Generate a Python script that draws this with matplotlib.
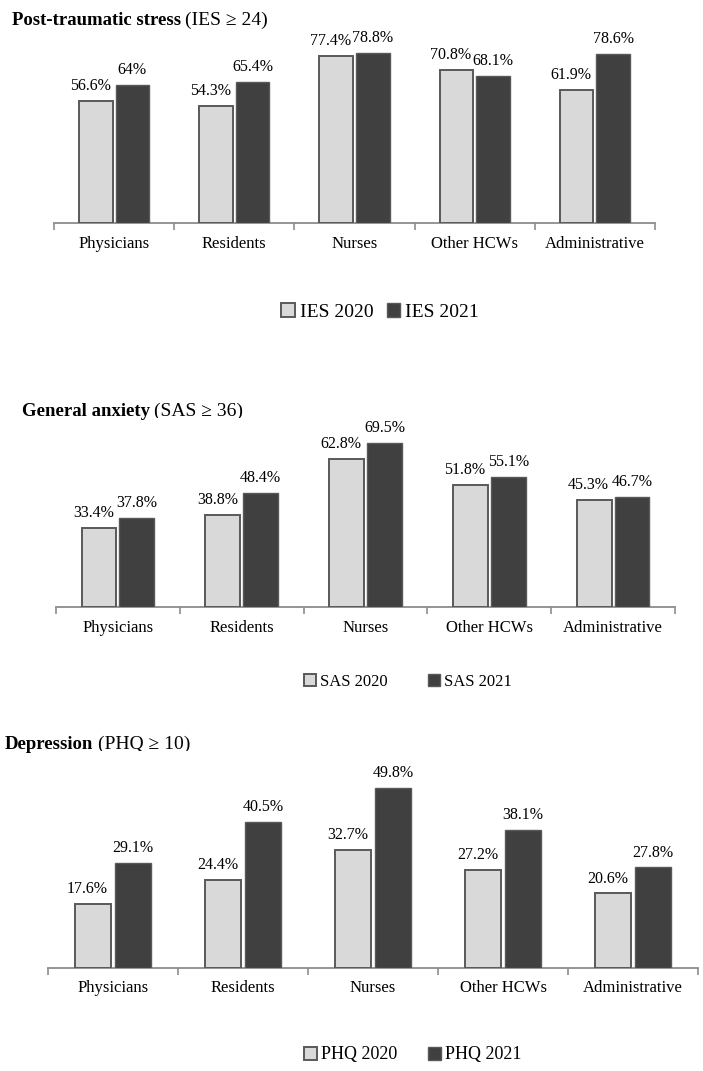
import matplotlib
matplotlib.use("Agg")
import matplotlib.pyplot as plt
import numpy as np

plt.rcParams['font.family'] = ['Liberation Serif', 'DejaVu Serif']

groups = ['Physicians', 'Residents', 'Nurses', 'Other HCWs', 'Administrative']

ies_2020 = [56.6, 54.3, 77.4, 70.8, 61.9]
ies_2021 = [64.0, 65.4, 78.8, 68.1, 78.6]
ies_labels_2020 = ['56.6%', '54.3%', '77.4%', '70.8%', '61.9%']
ies_labels_2021 = ['64%', '65.4%', '78.8%', '68.1%', '78.6%']

sas_2020 = [33.4, 38.8, 62.8, 51.8, 45.3]
sas_2021 = [37.8, 48.4, 69.5, 55.1, 46.7]

phq_2020 = [17.6, 24.4, 32.7, 27.2, 20.6]
phq_2021 = [29.1, 40.5, 49.8, 38.1, 27.8]

W, H = 703, 1071
light = '#d9d9d9'
dark = '#404040'
edge = '#595959'
axis_col = '#8c8c8c'

fig = plt.figure(figsize=(W / 100, H / 100), dpi=100)


def add_ax(x0, x1, base, top):
    # pixel box -> figure fraction
    return fig.add_axes([x0 / W, 1 - base / H, (x1 - x0) / W, (base - top) / H])


def fmt(vals):
    return ['%g%%' % v for v in vals]


def panel(ax, v1, v2, lab1, lab2, ymax):
    x = np.arange(len(groups))
    w = 0.28
    off = w / 2 + 0.0125
    b1 = ax.bar(x - off, v1, w, color=light, edgecolor=edge, linewidth=1.4, zorder=3)
    b2 = ax.bar(x + off, v2, w, color=dark, edgecolor=edge, linewidth=1.0, zorder=3)
    for r, t in zip(b1, lab1):
        ax.annotate(t, (r.get_x() + r.get_width() / 2, r.get_height()),
                    xytext=(-4, 5), textcoords='offset points',
                    ha='center', va='bottom', fontsize=11.5)
    for r, t in zip(b2, lab2):
        ax.annotate(t, (r.get_x() + r.get_width() / 2, r.get_height()),
                    xytext=(0, 5), textcoords='offset points',
                    ha='center', va='bottom', fontsize=11.5)
    ax.set_xlim(-0.5, len(groups) - 0.5)
    ax.set_ylim(0, ymax)
    for s in ['top', 'right', 'left']:
        ax.spines[s].set_visible(False)
    ax.spines['bottom'].set_color(axis_col)
    ax.spines['bottom'].set_linewidth(1.3)
    ax.set_yticks([])
    ax.set_xticks(x)
    ax.set_xticklabels(groups, fontsize=12)
    ax.tick_params(axis='x', which='major', length=0, pad=9)
    ax.set_xticks(np.arange(len(groups) + 1) - 0.5, minor=True)
    ax.tick_params(axis='x', which='minor', length=5, width=1.2, color=axis_col)
    return b1, b2


def title(x, y, bold, rest):
    t = fig.text(x / W, 1 - y / H, bold, fontsize=13.5, fontweight='bold', va='baseline')
    fig.axes[0].annotate(rest, xy=(1, 0), xycoords=t, xytext=(3, 0),
                         textcoords='offset points', fontsize=14, va='bottom',
                         annotation_clip=False)


def legend(handles, names, cx, cy, size, spacing):
    fig.legend(handles, names, loc='center', bbox_to_anchor=(cx / W, 1 - cy / H),
               ncol=2, frameon=False, fontsize=size, handlelength=0.7,
               handleheight=0.7, handletextpad=0.25, columnspacing=spacing)


ax1 = add_ax(54, 655, 223, 29)
h1 = panel(ax1, ies_2020, ies_2021, ies_labels_2020, ies_labels_2021, 90)

ax2 = add_ax(56, 675, 607, 418)
h2 = panel(ax2, sas_2020, sas_2021, fmt(sas_2020), fmt(sas_2021), 80)

ax3 = add_ax(48, 698, 968, 751)
h3 = panel(ax3, phq_2020, phq_2021, fmt(phq_2020), fmt(phq_2021), 60)

title(12, 25, 'Post-traumatic stress', '(IES \u2265 24)')
title(22, 416, 'General anxiety', '(SAS \u2265 36)')
title(5, 749, 'Depression', '(PHQ \u2265 10)')

legend(h1, ['IES 2020', 'IES 2021'], 380, 312, 14, 0.7)
legend(h2, ['SAS 2020', 'SAS 2021'], 408, 682, 12, 2.4)
legend(h3, ['PHQ 2020', 'PHQ 2021'], 413, 1055, 13, 1.7)

fig.savefig('out.png', dpi=100)
